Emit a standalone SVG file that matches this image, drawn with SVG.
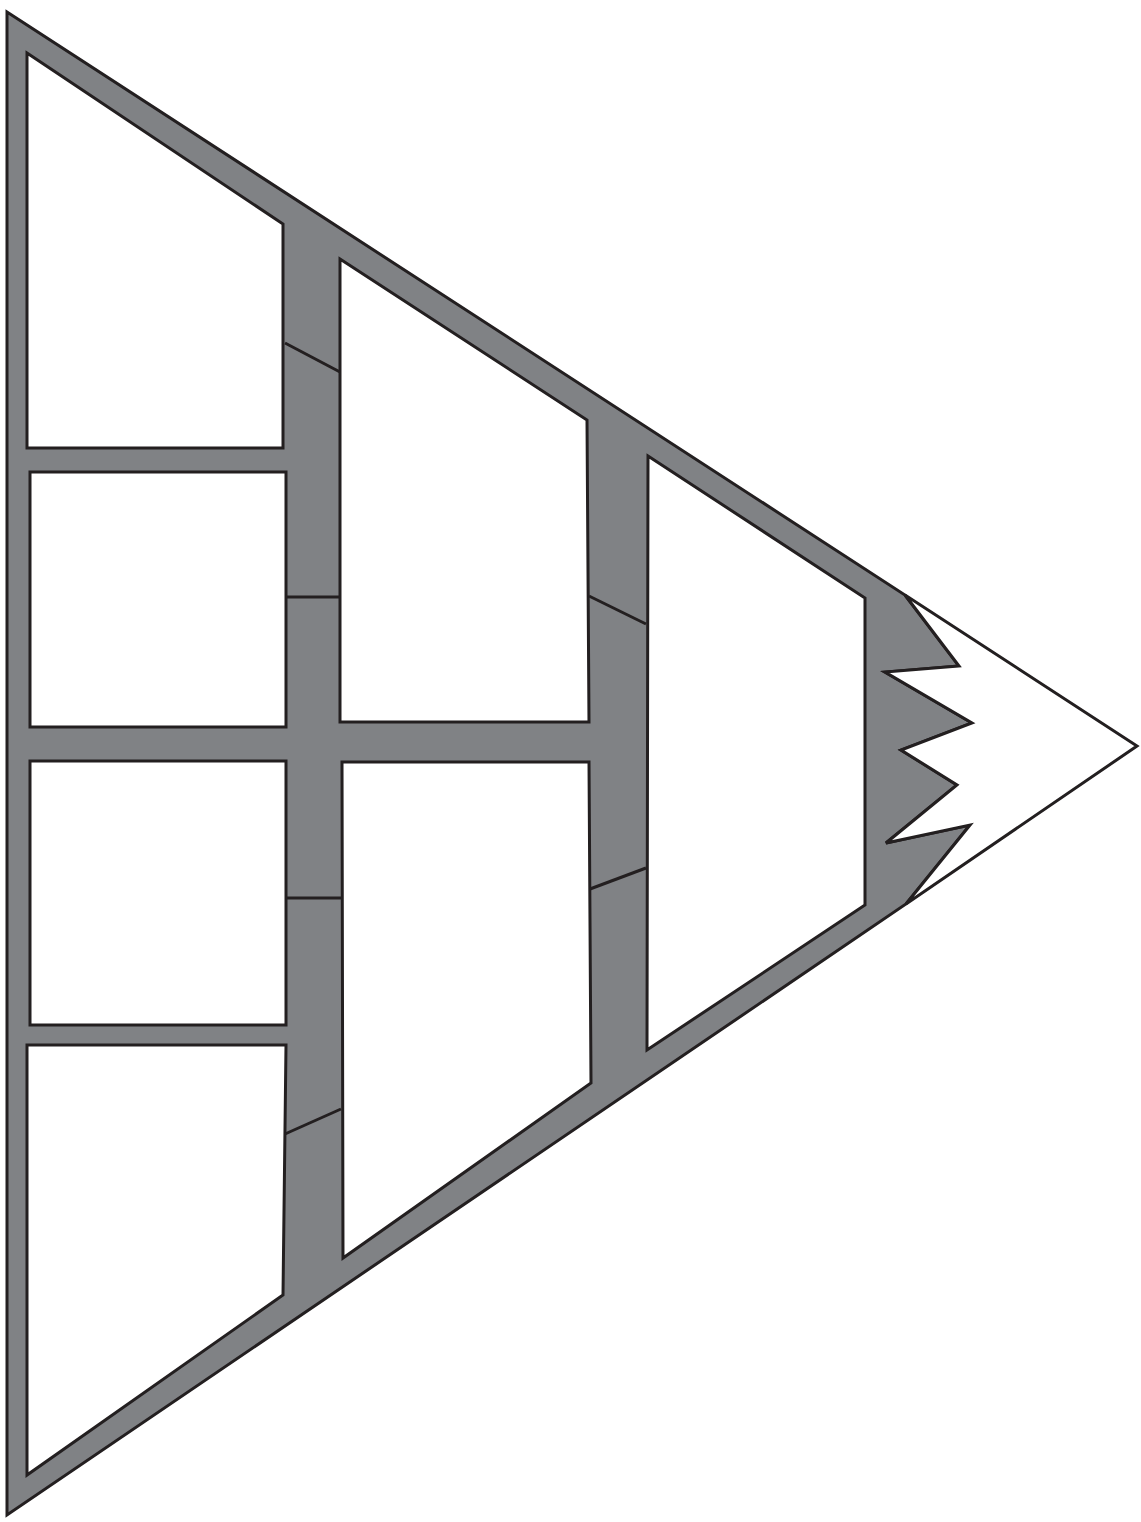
<svg xmlns="http://www.w3.org/2000/svg" width="1141" height="1522" viewBox="0 0 1141 1522">
<style>
.frame{fill:#808285;stroke:#231f20;stroke-width:3;stroke-linejoin:miter}
.box{fill:#ffffff;stroke:#231f20;stroke-width:3;stroke-linejoin:miter}
.tick{fill:none;stroke:#231f20;stroke-width:3}
</style>
<rect width="1141" height="1522" fill="#ffffff"/>
<g id="frame">
<polygon class="frame" points="7,12 905,595 959,666 885,672 972,723 901,750 957,785 886,843 970,825 906,904 7,1515"/>
<polygon class="box" points="905,595 1137,746 906,904 970,825 886,843 957,785 901,750 972,723 885,672 959,666"/>
</g>
<g id="r1-a"><polygon class="box" points="27,53 283,224 283,448 27,448"/></g>
<g id="r1-b"><polygon class="box" points="30,472 286,472 286,727 30,727"/></g>
<g id="r1-c"><polygon class="box" points="30,761 286,761 286,1025 30,1025"/></g>
<g id="r1-d"><polygon class="box" points="27,1045 286,1045 283,1295 27,1475"/></g>
<g id="r2-a"><polygon class="box" points="340,259 587,420 589,722 340,722"/></g>
<g id="r2-b"><polygon class="box" points="342,762 589,762 591,1083 343,1258"/></g>
<g id="r3"><polygon class="box" points="648,456 865,598 865,905 647,1050"/></g>
<g id="connectors">
<line class="tick" x1="285" y1="343" x2="340" y2="372"/>
<line class="tick" x1="287" y1="597" x2="340" y2="597"/>
<line class="tick" x1="287" y1="898" x2="341" y2="898"/>
<line class="tick" x1="285" y1="1134" x2="341" y2="1109"/>
<line class="tick" x1="589" y1="596" x2="646" y2="624"/>
<line class="tick" x1="590" y1="889" x2="646" y2="868"/>
</g>
</svg>
